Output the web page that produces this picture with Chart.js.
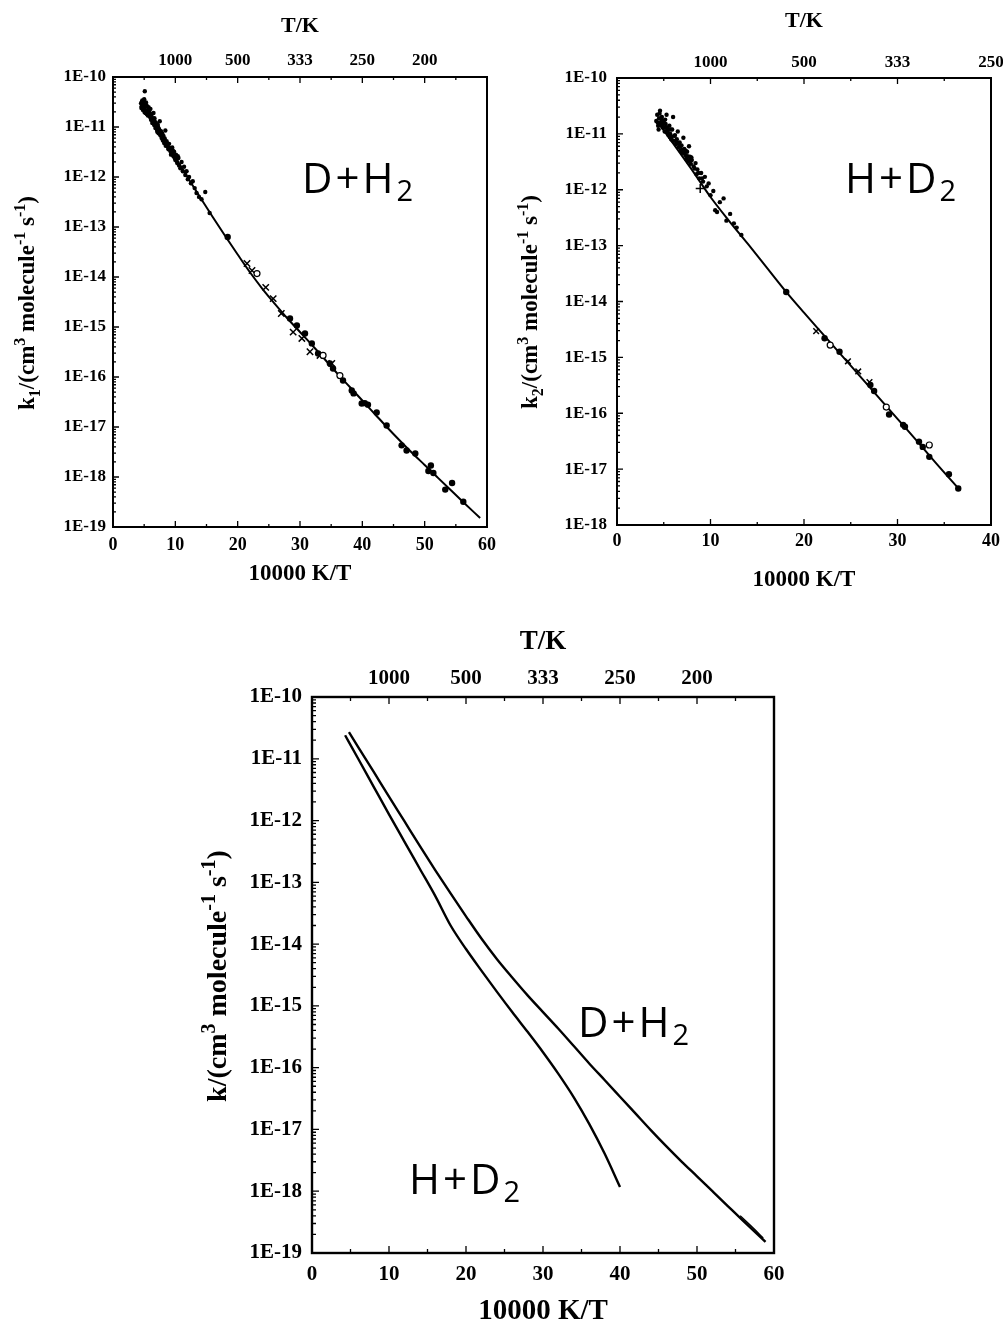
<!DOCTYPE html>
<html><head><meta charset="utf-8">
<script src="https://cdn.jsdelivr.net/npm/chart.js@4.4.1/dist/chart.umd.min.js"></script>
<style>
html,body{margin:0;padding:0;background:#fff;}
body{width:1003px;height:1324px;position:relative;overflow:hidden;}
canvas{position:absolute;display:block;}
#ov{position:absolute;left:0;top:0;pointer-events:none;}
</style></head><body>
<canvas id="c1" width="500" height="600" style="left:0;top:0;width:500px;height:600px"></canvas>
<canvas id="c2" width="503" height="600" style="left:500px;top:0;width:503px;height:600px"></canvas>
<canvas id="c3" width="680" height="724" style="left:150px;top:600px;width:680px;height:724px"></canvas>
<svg id="ov" width="1003" height="1324" xmlns="http://www.w3.org/2000/svg">
  <g font-family="'Liberation Serif','Times New Roman',serif" font-weight="bold" fill="#000">
    <text x="34" y="303" transform="rotate(-90 34 303)" text-anchor="middle" font-size="23">k<tspan font-size="16" dy="6">1</tspan><tspan dy="-6">/(cm</tspan><tspan font-size="16" dy="-9">3</tspan><tspan dy="9"> molecule</tspan><tspan font-size="16" dy="-9">-1</tspan><tspan dy="9"> s</tspan><tspan font-size="16" dy="-9">-1</tspan><tspan dy="9">)</tspan></text>
    <text x="537" y="302" transform="rotate(-90 537 302)" text-anchor="middle" font-size="23">k<tspan font-size="16" dy="6">2</tspan><tspan dy="-6">/(cm</tspan><tspan font-size="16" dy="-9">3</tspan><tspan dy="9"> molecule</tspan><tspan font-size="16" dy="-9">-1</tspan><tspan dy="9"> s</tspan><tspan font-size="16" dy="-9">-1</tspan><tspan dy="9">)</tspan></text>
    <text x="226" y="976" transform="rotate(-90 226 976)" text-anchor="middle" font-size="28">k/(cm<tspan font-size="20" dy="-11">3</tspan><tspan dy="11"> molecule</tspan><tspan font-size="20" dy="-11">-1</tspan><tspan dy="11"> s</tspan><tspan font-size="20" dy="-11">-1</tspan><tspan dy="11">)</tspan></text>
  </g>
  <g font-family="'Open Sans','DejaVu Sans',sans-serif" font-weight="400" fill="#000" font-size="42" letter-spacing="3">
    <text x="302" y="193">D+H<tspan font-size="29" dy="8">2</tspan></text>
    <text x="845" y="193">H+D<tspan font-size="29" dy="8">2</tspan></text>
    <text x="578" y="1037">D+H<tspan font-size="29" dy="8">2</tspan></text>
    <text x="409" y="1194">H+D<tspan font-size="29" dy="8">2</tspan></text>
  </g>
</svg>
<script>
// ================= DATA =================
// axis ticks
const bottomTicks60 = [0, 10, 20, 30, 40, 50, 60];
const bottomTicks40 = [0, 10, 20, 30, 40];
const topTickPos1 = [10, 20, 30, 40, 50];
const topTickLabels1 = ['1000', '500', '333', '250', '200'];
const topTickPos2 = [10, 20, 30, 40];
const topTickLabels2 = ['1000', '500', '333', '250'];
const yTicks19 = [1e-19, 1e-18, 1e-17, 1e-16, 1e-15, 1e-14, 1e-13, 1e-12, 1e-11, 1e-10];
const yLabels19 = ['1E-19', '1E-18', '1E-17', '1E-16', '1E-15', '1E-14', '1E-13', '1E-12', '1E-11', '1E-10'];
const yTicks18 = [1e-18, 1e-17, 1e-16, 1e-15, 1e-14, 1e-13, 1e-12, 1e-11, 1e-10];
const yLabels18 = ['1E-18', '1E-17', '1E-16', '1E-15', '1E-14', '1E-13', '1E-12', '1E-11', '1E-10'];

// D + H2 fitted / calculated curve (10000 K/T , k)
const dh2CurveX = [4.8, 6, 8, 10, 12, 14, 16, 18, 20, 22, 24, 26, 28, 30, 32, 34, 36, 38, 40, 42, 44, 46, 48, 50, 52, 54, 56, 58.9];
const dh2CurveK = [2.69e-11, 1.55e-11, 6.17e-12, 2.45e-12, 9.77e-13, 3.89e-13, 1.58e-13, 6.61e-14, 2.82e-14, 1.23e-14, 5.75e-15, 2.88e-15, 1.48e-15, 7.94e-16, 4.27e-16, 2.24e-16, 1.17e-16, 6.31e-17, 3.39e-17, 1.82e-17, 9.77e-18, 5.37e-18, 3.02e-18, 1.74e-18, 1.00e-18, 5.75e-19, 3.31e-19, 1.51e-19];
// second short trace near the end of D+H2 (bottom panel)
const dh2TailX = [55.6, 57.2, 58.6];
const dh2TailK = [4.0e-19, 2.6e-19, 1.75e-19];

// D + H2 high-temperature data (small dots)
const dh2DotsX = [4.5, 4.6, 4.7, 4.8, 4.9, 5.0, 5.1, 5.1, 5.2, 5.3, 5.4, 5.5, 5.6, 5.7, 5.8, 5.9, 6.0, 6.1, 6.2, 6.3, 6.4, 6.5, 6.6, 6.7, 6.8, 6.9, 7.0, 7.1, 7.2, 7.3, 7.4, 7.5, 7.6, 7.7, 7.8, 7.9, 8.0, 8.1, 8.2, 8.3, 8.4, 8.5, 8.6, 8.8, 8.9, 9.0, 9.2, 9.4, 9.5, 9.7, 9.8, 10.0, 10.1, 10.3, 10.5, 10.6, 10.8, 11.0, 11.2, 11.4, 11.6, 11.8, 12.0, 12.2, 12.5, 12.8, 13.1, 13.4, 13.8, 14.2, 14.8, 15.5,
  4.55, 4.65, 4.75, 4.85, 4.95, 5.05, 5.25, 5.45, 5.65, 5.85, 6.05, 6.25, 6.45, 6.65, 6.85, 7.05, 7.25, 7.45, 7.65, 7.85, 8.05, 8.25, 8.45, 8.7, 9.1, 9.3, 9.6, 9.9, 10.2, 10.4];
const dh2DotsK = [3.0e-11, 2.6e-11, 3.4e-11, 2.2e-11, 2.9e-11, 3.6e-11, 5.2e-11, 2.4e-11, 1.9e-11, 3.1e-11, 2.7e-11, 2.1e-11, 1.7e-11, 2.5e-11, 2.0e-11, 1.6e-11, 2.3e-11, 1.4e-11, 1.8e-11, 1.2e-11, 1.5e-11, 1.9e-11, 1.1e-11, 1.3e-11, 9.5e-12, 1.2e-11, 1.0e-11, 8.0e-12, 1.1e-11, 7.5e-12, 9.0e-12, 1.3e-11, 6.8e-12, 8.2e-12, 6.0e-12, 7.4e-12, 5.4e-12, 6.6e-12, 4.8e-12, 5.9e-12, 8.5e-12, 4.5e-12, 5.2e-12, 4.0e-12, 3.6e-12, 4.6e-12, 3.3e-12, 3.0e-12, 3.9e-12, 2.6e-12, 3.2e-12, 2.2e-12, 2.8e-12, 1.9e-12, 2.4e-12, 1.7e-12, 1.5e-12, 2.0e-12, 1.3e-12, 1.6e-12, 1.1e-12, 1.3e-12, 9.0e-13, 1.0e-12, 7.5e-13, 8.2e-13, 6.0e-13, 4.8e-13, 4.0e-13, 3.6e-13, 5.0e-13, 1.9e-13,
  2.4e-11, 3.2e-11, 2.7e-11, 3.3e-11, 2.3e-11, 2.0e-11, 2.6e-11, 1.8e-11, 2.2e-11, 1.9e-11, 1.6e-11, 1.4e-11, 1.2e-11, 1.5e-11, 1.05e-11, 8.8e-12, 9.8e-12, 7.8e-12, 7.2e-12, 6.4e-12, 6.0e-12, 5.3e-12, 4.2e-12, 4.4e-12, 3.8e-12, 2.8e-12, 3.4e-12, 2.4e-12, 2.1e-12, 2.6e-12];
// D + H2 low-temperature data (filled circles)
const dh2FilledX = [18.4, 28.4, 29.5, 30.8, 31.9, 32.9, 34.8, 35.3, 36.9, 38.3, 38.6, 39.9, 40.4, 40.9, 42.3, 43.9, 46.3, 47.1, 48.5, 51.0, 50.6, 51.4, 54.4, 53.3, 56.2];
const dh2FilledK = [6.3e-14, 1.48e-15, 1.07e-15, 7.4e-16, 4.7e-16, 2.95e-16, 1.86e-16, 1.48e-16, 8.5e-17, 5.4e-17, 4.7e-17, 2.95e-17, 3.0e-17, 2.8e-17, 1.95e-17, 1.07e-17, 4.3e-18, 3.4e-18, 2.95e-18, 1.7e-18, 1.32e-18, 1.2e-18, 7.6e-19, 5.6e-19, 3.2e-19];
// D + H2 data (crosses)
const dh2CrossX = [21.5, 22.3, 24.5, 25.7, 27.0, 28.9, 30.3, 31.6, 33.2, 35.1];
const dh2CrossK = [1.86e-14, 1.35e-14, 6.2e-15, 3.7e-15, 1.86e-15, 7.9e-16, 5.9e-16, 3.2e-16, 2.7e-16, 1.86e-16];
// D + H2 data (open circles)
const dh2OpenX = [23.1, 33.7, 36.4];
const dh2OpenK = [1.17e-14, 2.7e-16, 1.07e-16];

// H + D2 fitted curve (top-right panel)
const hd2CurveX = [4.5, 6, 8, 10, 12, 14, 16, 18, 20, 22, 24, 26, 28, 30, 32, 34, 36.7];
const hd2CurveK = [1.51e-11, 6.76e-12, 2.29e-12, 7.41e-13, 2.75e-13, 1.07e-13, 4.07e-14, 1.55e-14, 6.31e-15, 2.63e-15, 1.10e-15, 4.57e-16, 1.91e-16, 7.94e-17, 3.31e-17, 1.35e-17, 4.17e-18];
// H + D2 high-temperature data (small dots)
const hd2DotsX = [4.2, 4.3, 4.4, 4.5, 4.6, 4.7, 4.8, 4.9, 5.0, 5.1, 5.2, 5.3, 5.4, 5.5, 5.6, 5.7, 5.8, 5.9, 6.0, 6.1, 6.2, 6.3, 6.4, 6.5, 6.6, 6.7, 6.8, 6.9, 7.0, 7.1, 7.2, 7.3, 7.4, 7.5, 7.6, 7.7, 7.8, 7.9, 8.0, 8.2, 8.4, 8.5, 8.6, 8.8, 9.0, 9.2, 9.4, 9.6, 9.8, 10.0, 10.3, 10.5, 10.7, 11.0, 11.4, 11.7, 12.1, 12.5, 12.8, 13.3,
  4.35, 4.45, 4.55, 4.65, 4.75, 4.85, 4.95, 5.05, 5.15, 5.25, 5.35, 5.45, 5.55, 5.65, 5.75, 5.85, 5.95, 6.15, 6.35, 6.55, 6.75, 6.95, 7.15, 7.35, 7.55, 7.75, 7.95, 8.3, 8.7, 9.1];
const hd2DotsK = [1.7e-11, 2.2e-11, 1.4e-11, 1.9e-11, 2.6e-11, 1.6e-11, 2.0e-11, 1.3e-11, 1.7e-11, 1.1e-11, 1.5e-11, 2.2e-11, 1.2e-11, 9.5e-12, 1.4e-11, 1.0e-11, 8.0e-12, 1.2e-11, 2.0e-11, 7.5e-12, 9.5e-12, 6.5e-12, 8.0e-12, 1.1e-11, 5.8e-12, 7.0e-12, 5.0e-12, 6.2e-12, 4.6e-12, 8.5e-12, 5.4e-12, 4.2e-12, 3.6e-12, 4.8e-12, 3.2e-12, 6.0e-12, 3.9e-12, 2.9e-12, 3.4e-12, 2.6e-12, 3.0e-12, 1.9e-12, 2.3e-12, 1.6e-12, 2.0e-12, 1.4e-12, 1.7e-12, 1.15e-12, 1.3e-12, 8.0e-13, 9.5e-13, 4.3e-13, 4.0e-13, 6.0e-13, 7.0e-13, 2.8e-13, 3.7e-13, 2.5e-13, 2.1e-13, 1.55e-13,
  1.6e-11, 1.2e-11, 2.3e-11, 1.5e-11, 1.8e-11, 1.4e-11, 1.6e-11, 1.3e-11, 1.8e-11, 1.1e-11, 1.3e-11, 1.15e-11, 1.0e-11, 8.8e-12, 1.2e-11, 9.0e-12, 7.6e-12, 9.2e-12, 7.2e-12, 6.8e-12, 6.0e-12, 5.2e-12, 4.6e-12, 5.0e-12, 4.0e-12, 3.4e-12, 3.8e-12, 2.4e-12, 2.0e-12, 1.6e-12];
// H + D2 low-temperature data (filled circles)
const hd2FilledX = [18.1, 22.2, 23.8, 27.1, 27.5, 29.1, 30.6, 30.8, 32.3, 32.7, 33.4, 35.5, 36.5];
const hd2FilledK = [1.48e-14, 2.2e-15, 1.26e-15, 3.2e-16, 2.5e-16, 9.5e-17, 6.2e-17, 5.75e-17, 3.1e-17, 2.5e-17, 1.66e-17, 8.1e-18, 4.5e-18];
// H + D2 data (crosses)
const hd2CrossX = [21.3, 24.7, 25.8, 27.0];
const hd2CrossK = [2.95e-15, 8.5e-16, 5.6e-16, 3.6e-16];
// H + D2 data (plus)
const hd2PlusX = [8.9];
const hd2PlusK = [1.05e-12];
// H + D2 data (open circles)
const hd2OpenX = [22.8, 28.8, 33.4];
const hd2OpenK = [1.66e-15, 1.29e-16, 2.7e-17];

// H + D2 calculated curve (bottom panel)
const hd2CalcX = [4.3, 6, 8, 10, 12, 14, 16, 18, 20, 22, 24, 26, 28, 30, 32, 34, 36, 38, 40];
const hd2CalcK = [2.40e-11, 1.00e-11, 3.55e-12, 1.26e-12, 4.57e-13, 1.66e-13, 6.03e-14, 2.00e-14, 8.32e-15, 3.72e-15, 1.70e-15, 7.94e-16, 3.80e-16, 1.78e-16, 7.94e-17, 3.31e-17, 1.23e-17, 4.07e-18, 1.17e-18];

// ================= RENDERING =================
const SERIF = '"Liberation Serif","Times New Roman",serif';
const pts = (xs, ks) => xs.map((x, i) => ({x: x, y: ks[i]}));

const framePlugin = {
  id: 'frameTicks',
  afterDatasetsDraw(chart, args, o) {
    const ctx = chart.ctx, a = chart.chartArea, xs = chart.scales.x, ys = chart.scales.y;
    ctx.save();
    ctx.strokeStyle = '#000';
    ctx.lineWidth = o.tick;
    ctx.beginPath();
    const n = Math.round((xs.max - xs.min) / o.xMinor);
    for (let i = 0; i <= n; i++) {
      const px = xs.getPixelForValue(xs.min + i * o.xMinor);
      const len = (i % o.xRatio === 0) ? o.major : o.minor;
      ctx.moveTo(px, a.bottom); ctx.lineTo(px, a.bottom - len);
      ctx.moveTo(px, a.top); ctx.lineTo(px, a.top + len);
    }
    const e0 = Math.round(Math.log10(ys.min)), e1 = Math.round(Math.log10(ys.max));
    for (let e = e0; e <= e1; e++) {
      for (let m = 1; m <= 9; m++) {
        if (e === e1 && m > 1) break;
        const py = ys.getPixelForValue(m * Math.pow(10, e));
        const len = m === 1 ? o.major : o.minor;
        ctx.moveTo(a.left, py); ctx.lineTo(a.left + len, py);
      }
    }
    ctx.stroke();
    ctx.lineWidth = o.frame;
    ctx.strokeRect(a.left, a.top, a.right - a.left, a.bottom - a.top);
    ctx.restore();
  }
};

function lineDS(data, w) {
  return {type: 'line', data: data, showLine: true, borderColor: '#000', borderWidth: w, pointRadius: 0, fill: false,
    cubicInterpolationMode: 'monotone', order: 2};
}
function dotDS(data, r) {
  return {data: data, pointStyle: 'circle', pointRadius: r, backgroundColor: '#000', borderColor: '#000', borderWidth: 0, order: 1};
}
function openDS(data, r) {
  return {data: data, pointStyle: 'circle', pointRadius: r, backgroundColor: '#fff', borderColor: '#000', borderWidth: 1.2, order: 0};
}
function crossDS(data, style, r) {
  return {data: data, pointStyle: style, pointRadius: r, backgroundColor: '#000', borderColor: '#000', borderWidth: 1.5, order: 1};
}

function makeChart(id, g, datasets, xTicks, topPos, topLabels, yTicks, yLabels) {
  const bold = (s) => ({family: SERIF, weight: 'bold', size: s});
  return new Chart(document.getElementById(id), {
    type: 'scatter',
    data: {datasets: datasets},
    options: {
      responsive: false, animation: false, devicePixelRatio: 1,
      layout: {padding: {left: 0, right: g.padRight, top: 0, bottom: 0}},
      plugins: {legend: {display: false}, tooltip: {enabled: false},
        frameTicks: {frame: g.frame, tick: 1.3, major: g.major, minor: g.minor, xMinor: 5, xRatio: 2}},
      scales: {
        x: {type: 'linear', position: 'bottom', min: 0, max: g.xMax,
          grid: {display: false, drawTicks: false}, border: {display: false},
          afterBuildTicks: s => { s.ticks = xTicks.map(v => ({value: v})); },
          afterFit: s => { s.height = g.bottomH; s.paddingLeft = 0; s.paddingRight = 0; },
          ticks: {autoSkip: false, maxRotation: 0, color: '#000', padding: g.xTickPad, font: bold(g.xTickFont)},
          title: {display: true, text: '10000 K/T', color: '#000', font: bold(g.xTitleFont), padding: {top: 0, bottom: g.xTitlePad}}
        },
        x2: {type: 'linear', position: 'top', min: 0, max: g.xMax,
          grid: {display: false, drawTicks: false}, border: {display: false},
          afterBuildTicks: s => { s.ticks = topPos.map(v => ({value: v})); },
          afterFit: s => { s.height = g.topH; s.paddingLeft = 0; s.paddingRight = 0; },
          ticks: {autoSkip: false, maxRotation: 0, color: '#000', padding: g.topTickPad, font: bold(g.topTickFont),
            callback: (v, i) => topLabels[i]},
          title: {display: true, text: 'T/K', color: '#000', font: bold(g.topTitleFont), padding: {top: g.topTitlePad, bottom: 0}}
        },
        y: {type: 'logarithmic', position: 'left', min: yTicks[0], max: yTicks[yTicks.length - 1],
          grid: {display: false, drawTicks: false}, border: {display: false},
          afterBuildTicks: s => { s.ticks = yTicks.map(v => ({value: v})); },
          afterFit: s => { s.width = g.yW; s.paddingTop = 0; s.paddingBottom = 0; },
          ticks: {autoSkip: false, color: '#000', padding: g.yTickPad, font: bold(g.yTickFont),
            callback: (v, i) => yLabels[i]}
        }
      }
    },
    plugins: [framePlugin]
  });
}

// Panel 1 : D + H2
makeChart('c1',
  {padRight: 13, yW: 113, topH: 77, bottomH: 73, xMax: 60, frame: 2, major: 6, minor: 3,
   xTickPad: 7.7, xTickFont: 18, xTitleFont: 23, xTitlePad: 12.2,
   topTickPad: 5.8, topTickFont: 17, topTitleFont: 22, topTitlePad: 13.5,
   yTickPad: 7, yTickFont: 17},
  [lineDS(pts(dh2CurveX, dh2CurveK), 2),
   dotDS(pts(dh2DotsX, dh2DotsK), 2.2),
   dotDS(pts(dh2FilledX, dh2FilledK), 3.2),
   crossDS(pts(dh2CrossX, dh2CrossK), 'crossRot', 4.5),
   openDS(pts(dh2OpenX, dh2OpenK), 3)],
  bottomTicks60, topTickPos1, topTickLabels1, yTicks19, yLabels19);

// Panel 2 : H + D2
makeChart('c2',
  {padRight: 12, yW: 117, topH: 78, bottomH: 75, xMax: 40, frame: 2, major: 6, minor: 3,
   xTickPad: 5.9, xTickFont: 18, xTitleFont: 23, xTitlePad: 6.2,
   topTickPad: 5.5, topTickFont: 17, topTitleFont: 22, topTitlePad: 8.5,
   yTickPad: 10, yTickFont: 17},
  [lineDS(pts(hd2CurveX, hd2CurveK), 2),
   dotDS(pts(hd2DotsX, hd2DotsK), 2.2),
   dotDS(pts(hd2FilledX, hd2FilledK), 3.2),
   crossDS(pts(hd2CrossX, hd2CrossK), 'crossRot', 4),
   crossDS(pts(hd2PlusX, hd2PlusK), 'cross', 4.5),
   openDS(pts(hd2OpenX, hd2OpenK), 3)],
  bottomTicks40, topTickPos2, topTickLabels2, yTicks18, yLabels18);

// Panel 3 : comparison
makeChart('c3',
  {padRight: 56, yW: 162, topH: 97, bottomH: 71, xMax: 60, frame: 2.4, major: 7, minor: 4,
   xTickPad: 9.4, xTickFont: 21, xTitleFont: 29, xTitlePad: -5,
   topTickPad: 6.1, topTickFont: 21, topTitleFont: 27, topTitlePad: 25.5,
   yTickPad: 10, yTickFont: 21},
  [lineDS(pts(dh2CurveX, dh2CurveK), 2.4),
   lineDS(pts(dh2TailX, dh2TailK), 1.4),
   lineDS(pts(hd2CalcX, hd2CalcK), 2.4)],
  bottomTicks60, topTickPos1, topTickLabels1, yTicks19, yLabels19);
</script>
</body></html>
